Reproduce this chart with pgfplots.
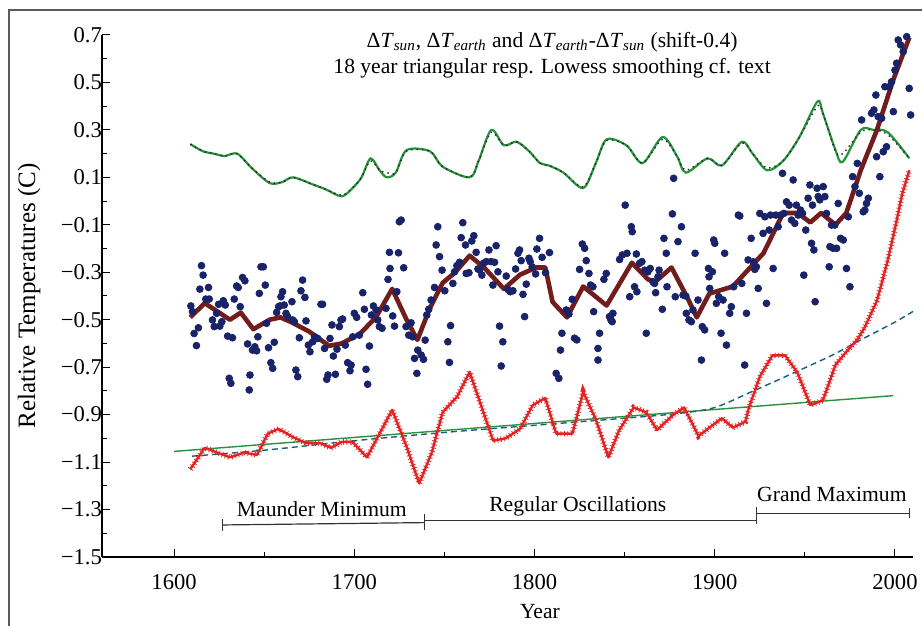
\documentclass[border=0pt]{standalone}
\usepackage{fontspec}
\setmainfont{Liberation Serif}
\usepackage{pgfplots}
\pgfplotsset{compat=1.18}

\definecolor{dotblue}{RGB}{25,35,105}
\definecolor{smoothred}{RGB}{115,28,28}
\definecolor{diffred}{RGB}{225,35,35}
\definecolor{sungreen}{RGB}{40,145,60}
\definecolor{trendteal}{RGB}{25,95,125}
\definecolor{framegray}{RGB}{90,90,90}

% Delta T_sun (green, Lowess) and its black dotted twin
\pgfplotstableread{
year val
1609 0.24
1616 0.21
1622 0.20
1628 0.19
1635 0.20
1643 0.14
1653 0.076
1660 0.08
1666 0.10
1677 0.07
1684 0.05
1693 0.02
1699 0.055
1704 0.10
1709 0.18
1714 0.13
1718 0.10
1723 0.12
1729 0.215
1742 0.21
1749 0.145
1764 0.10
1769 0.17
1776 0.30
1783 0.235
1790 0.25
1797 0.21
1803 0.16
1808 0.15
1816 0.12
1827 0.055
1834 0.16
1840 0.26
1851 0.235
1860 0.16
1871 0.27
1879 0.19
1884 0.12
1896 0.18
1904 0.15
1915 0.25
1921 0.20
1929 0.13
1938 0.17
1947 0.27
1957 0.42
1960 0.37
1967 0.215
1971 0.165
1981 0.30
1988 0.30
1996 0.29
2008 0.18
}\sungreendata

\pgfplotstableread{
year val
1609 0.24
1616 0.21
1622 0.20
1628 0.19
1635 0.20
1643 0.14
1653 0.08
1660 0.08
1666 0.10
1677 0.07
1684 0.05
1693 0.025
1699 0.055
1704 0.10
1709 0.17
1714 0.13
1718 0.12
1723 0.12
1729 0.21
1742 0.21
1749 0.145
1764 0.10
1769 0.17
1776 0.29
1783 0.235
1790 0.25
1797 0.21
1803 0.16
1808 0.15
1816 0.12
1827 0.06
1834 0.16
1840 0.255
1851 0.235
1860 0.16
1871 0.26
1879 0.19
1884 0.13
1896 0.18
1904 0.15
1915 0.245
1921 0.20
1929 0.14
1938 0.17
1947 0.27
1957 0.40
1960 0.37
1967 0.21
1971 0.20
1981 0.29
1988 0.30
1996 0.28
2008 0.18
}\sundotdata

% annual Delta T_earth
\pgfplotstableread{
year val
1609.3 -0.442
1610.2 -0.466
1611.1 -0.558
1612.4 -0.609
1613.5 -0.534
1614.3 -0.371
1615.2 -0.272
1616.1 -0.312
1617.6 -0.413
1619.1 -0.364
1619.5 -0.413
1621.3 -0.501
1622.3 -0.529
1623.6 -0.473
1624.7 -0.435
1625.4 -0.527
1626.5 -0.508
1627.3 -0.420
1628.4 -0.438
1629.7 -0.569
1630.6 -0.747
1631.5 -0.768
1632.4 -0.576
1633.4 -0.413
1634.7 -0.358
1635.6 -0.364
1636.7 -0.445
1638.0 -0.322
1639.3 -0.336
1640.8 -0.602
1642.1 -0.733
1641.7 -0.796
1643.5 -0.628
1644.8 -0.614
1645.8 -0.631
1646.5 -0.572
1647.3 -0.389
1648.2 -0.277
1649.5 -0.277
1650.6 -0.354
1651.3 -0.515
1652.4 -0.618
1653.7 -0.681
1654.7 -0.705
1655.6 -0.595
1656.9 -0.469
1658.0 -0.445
1658.7 -0.442
1659.3 -0.403
1660.2 -0.382
1661.1 -0.438
1662.1 -0.473
1663.0 -0.487
1665.4 -0.424
1665.8 -0.501
1666.7 -0.508
1667.6 -0.712
1668.6 -0.740
1669.5 -0.576
1670.4 -0.378
1671.3 -0.333
1672.6 -0.406
1673.2 -0.505
1674.5 -0.607
1675.4 -0.635
1676.9 -0.593
1678.0 -0.572
1679.7 -0.579
1681.5 -0.435
1682.4 -0.435
1683.5 -0.621
1684.7 -0.751
1685.4 -0.733
1686.5 -0.579
1687.6 -0.522
1688.4 -0.653
1689.5 -0.730
1690.4 -0.624
1691.7 -0.529
1692.6 -0.501
1693.5 -0.497
1695.0 -0.607
1696.3 -0.681
1697.6 -0.715
1698.2 -0.691
1699.1 -0.572
1700.0 -0.473
1701.3 -0.490
1702.8 -0.565
1704.7 -0.386
1705.6 -0.456
1706.5 -0.709
1707.4 -0.772
1708.4 -0.611
1709.5 -0.480
1710.6 -0.442
1712.1 -0.459
1713.0 -0.501
1713.9 -0.529
1715.4 -0.536
1717.6 -0.452
1718.7 -0.330
1719.8 -0.284
1719.5 -0.216
1721.3 -0.484
1722.3 -0.527
1723.6 -0.382
1724.5 -0.218
1725.0 -0.087
1726.0 -0.080
1727.4 -0.281
1728.7 -0.529
1730.2 -0.565
1731.5 -0.513
1732.4 -0.572
1733.4 -0.663
1734.7 -0.726
1735.2 -0.628
1737.1 -0.649
1738.4 -0.667
1739.3 -0.586
1740.2 -0.480
1741.3 -0.456
1742.6 -0.417
1744.5 -0.364
1745.4 -0.185
1746.3 -0.108
1747.3 -0.234
1748.7 -0.291
1750.2 -0.378
1751.9 -0.593
1752.8 -0.680
1753.4 -0.525
1754.7 -0.347
1755.6 -0.298
1756.9 -0.272
1758.4 -0.258
1759.3 -0.154
1760.2 -0.091
1761.7 -0.185
1762.1 -0.305
1763.6 -0.302
1765.2 -0.168
1766.3 -0.146
1767.6 -0.216
1768.6 -0.286
1769.5 -0.291
1770.8 -0.312
1771.7 -0.262
1773.2 -0.255
1774.7 -0.206
1775.9 -0.255
1776.9 -0.354
1777.8 -0.258
1778.7 -0.188
1779.7 -0.298
1780.6 -0.527
1781.5 -0.695
1782.4 -0.593
1784.3 -0.316
1785.2 -0.372
1786.5 -0.382
1788.0 -0.378
1789.5 -0.286
1790.8 -0.220
1791.7 -0.206
1792.6 -0.251
1793.6 -0.393
1794.5 -0.487
1795.4 -0.350
1796.9 -0.241
1797.6 -0.255
1798.7 -0.277
1800.6 -0.307
1801.3 -0.202
1802.8 -0.157
1804.2 -0.237
1806.1 -0.302
1808.3 -0.217
1812.0 -0.726
1813.5 -0.747
1814.4 -0.628
1815.2 -0.557
1817.6 -0.459
1819.1 -0.476
1820.9 -0.414
1822.2 -0.578
1823.5 -0.585
1825.0 -0.288
1826.5 -0.181
1827.8 -0.199
1828.7 -0.251
1830.2 -0.305
1831.1 -0.354
1832.4 -0.361
1832.8 -0.466
1835.2 -0.670
1835.2 -0.621
1836.1 -0.557
1838.5 -0.330
1839.8 -0.305
1841.6 -0.487
1842.4 -0.501
1843.1 -0.508
1843.5 -0.473
1847.2 -0.246
1848.7 -0.227
1850.3 -0.017
1851.3 -0.220
1852.8 -0.403
1853.7 -0.108
1854.2 -0.129
1855.5 -0.361
1856.5 -0.223
1856.8 -0.382
1858.3 -0.262
1859.6 -0.255
1861.1 -0.291
1862.0 -0.557
1862.9 -0.298
1864.2 -0.284
1865.7 -0.340
1866.6 -0.347
1867.2 -0.386
1868.5 -0.319
1869.1 -0.291
1870.9 -0.456
1871.8 -0.157
1873.1 -0.220
1873.5 -0.361
1876.5 -0.054
1877.2 0.096
1878.1 -0.403
1879.6 -0.171
1881.5 -0.108
1882.4 -0.396
1883.9 -0.400
1884.2 -0.473
1885.7 -0.501
1887.0 -0.508
1887.9 -0.459
1889.1 -0.220
1890.7 -0.417
1892.6 -0.670
1893.1 -0.529
1894.4 -0.543
1896.5 -0.284
1896.8 -0.319
1897.2 -0.368
1898.7 -0.298
1899.4 -0.164
1900.0 -0.178
1900.9 -0.431
1902.2 -0.403
1903.5 -0.557
1904.6 -0.417
1905.5 -0.220
1906.5 -0.607
1908.3 -0.473
1909.2 -0.445
1910.5 -0.361
1913.1 -0.059
1913.9 -0.063
1915.0 -0.347
1916.6 -0.691
1917.6 -0.473
1918.5 -0.248
1920.2 -0.157
1921.3 -0.256
1922.2 -0.288
1923.1 -0.277
1924.1 -0.368
1925.0 -0.052
1926.8 -0.136
1927.8 -0.066
1928.7 -0.431
1930.2 -0.122
1930.9 -0.059
1932.4 -0.284
1933.9 -0.059
1935.2 -0.108
1936.5 -0.059
1937.6 0.117
1938.3 -0.052
1939.8 -0.003
1941.3 -0.017
1942.6 -0.080
1943.5 0.089
1944.4 -0.094
1945.3 -0.017
1946.3 -0.059
1947.6 -0.038
1948.7 -0.052
1949.4 -0.312
1950.5 -0.122
1951.8 0.012
1952.8 0.068
1953.7 -0.178
1954.2 -0.017
1955.0 -0.206
1955.7 -0.424
1956.8 0.054
1957.4 0.019
1958.3 0.005
1960.2 0.061
1961.1 0.019
1962.0 -0.052
1963.5 -0.277
1963.9 -0.192
1964.8 -0.101
1965.7 -0.199
1966.6 -0.101
1967.6 -0.199
1968.5 -0.010
1969.8 -0.157
1971.3 -0.164
1973.1 -0.284
1974.1 -0.066
1975.0 -0.361
1976.5 0.103
1977.8 0.061
1979.1 0.159
1980.2 0.033
1981.5 0.342
1982.4 -0.045
1983.3 -0.038
1984.2 -0.010
1985.2 0.012
1987.0 0.370
1988.3 0.384
1989.4 0.447
1989.8 0.187
1990.7 0.356
1991.6 0.103
1992.6 0.349
1993.5 0.208
1994.4 0.482
1995.3 0.229
1996.8 0.482
1998.1 0.503
1999.1 0.377
2000.0 0.552
2000.9 0.581
2001.8 0.679
2003.1 0.658
2004.6 0.630
2006.5 0.693
2007.9 0.475
2008.7 0.363
}\earthdata

% 18 year smoothed Delta T_earth
\pgfplotstableread{
year val
1609 -0.49
1617 -0.43
1631 -0.50
1637 -0.47
1644 -0.54
1653 -0.50
1659 -0.49
1665 -0.51
1675 -0.55
1686 -0.61
1693 -0.60
1703 -0.56
1712 -0.49
1721 -0.37
1729 -0.50
1735 -0.585
1742 -0.45
1749 -0.345
1756 -0.30
1764 -0.23
1772 -0.28
1783 -0.37
1792 -0.31
1801 -0.28
1806 -0.28
1810 -0.425
1818 -0.49
1827 -0.36
1840 -0.44
1854 -0.26
1863 -0.33
1867 -0.34
1876 -0.28
1885 -0.41
1890 -0.49
1897 -0.39
1910 -0.36
1927 -0.22
1938 -0.05
1946 -0.05
1953 -0.09
1959 -0.05
1967 -0.10
1973 -0.05
1981 0.13
1990 0.30
1999 0.51
2008 0.69
}\smoothdata

% Delta T_earth - Delta T_sun, shifted by -0.4
\pgfplotstableread{
year val
1609 -1.13
1617 -1.04
1624 -1.06
1631 -1.08
1639 -1.06
1646 -1.07
1652 -0.98
1658 -0.96
1666 -0.995
1673 -1.02
1681 -1.02
1687 -1.04
1693 -1.015
1699 -1.015
1707 -1.08
1714 -0.98
1721 -0.88
1729 -1.035
1736 -1.19
1743 -1.06
1749 -0.89
1757 -0.825
1764 -0.72
1777 -1.01
1784 -1.00
1792 -0.96
1799 -0.86
1806 -0.83
1812 -0.98
1821 -0.98
1827 -0.805
1834 -0.92
1841 -1.08
1847 -0.965
1855 -0.87
1862 -0.89
1868 -0.965
1877 -0.90
1883 -0.87
1891 -0.99
1897 -0.955
1904 -0.915
1910 -0.955
1917 -0.93
1919 -0.87
1925 -0.74
1932 -0.65
1939 -0.65
1946 -0.725
1953 -0.86
1960 -0.84
1967 -0.69
1973 -0.635
1979 -0.585
1983 -0.535
1990 -0.42
1996 -0.25
2001 -0.08
2004 0.03
2008 0.13
}\diffdata

\pgfplotstableread{
year val
1610 -1.075
1650 -1.05
1700 -1.01
1750 -0.975
1800 -0.945
1850 -0.915
1880 -0.895
1900 -0.87
1920 -0.805
1945 -0.72
1965 -0.65
1981 -0.585
2000 -0.51
2010 -0.465
}\trenddata

\begin{document}
\begin{tikzpicture}[font=\fontsize{10.8}{13}\selectfont]
\useasboundingbox (-51pt,-34.5pt) rectangle (410pt,278.5pt);
\clip (-51pt,-34.5pt) rectangle (410pt,278.5pt);
\draw[framegray, line width=0.7pt] (-46.5pt,-40pt) -- (-46.5pt,273.5pt) -- (420pt,273.5pt);
\begin{axis}[
  scale only axis,
  width=405.5pt, height=261pt,
  at={(0,0)}, anchor=south west,
  xmin=1560, xmax=2010,
  ymin=-1.5, ymax=0.7,
  axis x line*=bottom,
  axis y line*=left,
  axis line style={line width=0.7pt},
  tick align=inside,
  major tick length=3.8pt,
  minor tick length=2.4pt,
  tick style={black, line width=0.5pt},
  xtick={1600,1700,1800,1900,2000},
  xticklabels={1600,1700,1800,1900,2000},
  minor x tick num=1,
  ytick={-1.5,-1.3,-1.1,-0.9,-0.7,-0.5,-0.3,-0.1,0.1,0.3,0.5,0.7},
  yticklabels={−1.5,−1.3,−1.1,−0.9,−0.7,−0.5,−0.3,−0.1,0.1,0.3,0.5,0.7},
  minor y tick num=1,
  ticklabel style={font=\fontsize{11.3}{13}\selectfont},
  xticklabel style={yshift=-5pt},
  yticklabel style={xshift=3.5pt},
  xlabel={Year},
  xlabel style={at={(axis description cs:0.54,0)}, anchor=center, yshift=-27.5pt},
  ylabel={Relative Temperatures (C)},
  ylabel style={at={(axis description cs:-0.09,0.5)}, anchor=center,
                font=\fontsize{12.5}{14}\selectfont},
  clip=false,
]
  % trend lines
  \addplot[sungreen, line width=0.7pt] coordinates {(1600,-1.055) (1999,-0.82)};
  \addplot[trendteal, line width=0.7pt, dash pattern=on 3pt off 2pt, smooth] table {\trenddata};

  % sun curve
  \addplot[sungreen, line width=1.1pt, smooth, tension=0.5] table {\sungreendata};
  \addplot[black!85, line width=0.7pt, dotted, smooth, tension=0.5] table {\sundotdata};

  % annual earth values
  \addplot[only marks, mark=*, mark size=1.7pt, dotblue,
           mark options={draw=dotblue, fill=dotblue}] table {\earthdata};

  % difference curve: solid core plus a fringe of tiny marks
  \addplot[diffred, line width=1.2pt, line join=round] table {\diffdata};
  \addplot[diffred, line width=2.8pt, dash pattern=on 0.4pt off 1.3pt] table {\diffdata};

  % smoothed earth
  \addplot[smoothred, line width=2.3pt, line join=round] table {\smoothdata};

  % periods
  \draw[black!80, line width=0.6pt] (axis cs:1627,-1.365) -- (axis cs:1739,-1.355);
  \draw[black!80, line width=0.6pt] (axis cs:1627,-1.34) -- (axis cs:1627,-1.39);
  \draw[black!80, line width=0.6pt] (axis cs:1739,-1.345) -- (axis cs:1923,-1.345);
  \draw[black!80, line width=0.6pt] (axis cs:1739,-1.32) -- (axis cs:1739,-1.385);
  \draw[black!80, line width=0.6pt] (axis cs:1923,-1.315) -- (axis cs:2008,-1.315);
  \draw[black!80, line width=0.6pt] (axis cs:1923,-1.29) -- (axis cs:1923,-1.36);
  \draw[black!80, line width=0.6pt] (axis cs:2008,-1.295) -- (axis cs:2008,-1.335);
  \node at (axis cs:1682,-1.30) {Maunder Minimum};
  \node at (axis cs:1824,-1.285) {Regular Oscillations};
  \node at (axis cs:1965,-1.235) {Grand Maximum};

  % title
  \node at (rel axis cs:0.555,0.987) {Δ\textit{T}\textsubscript{\textit{sun}}, Δ\textit{T}\textsubscript{\textit{earth}} and Δ\textit{T}\textsubscript{\textit{earth}}-Δ\textit{T}\textsubscript{\textit{sun}} (shift-0.4)};
  \node at (rel axis cs:0.555,0.937) {18 year triangular resp. Lowess smoothing cf. text};
\end{axis}
\end{tikzpicture}
\end{document}
